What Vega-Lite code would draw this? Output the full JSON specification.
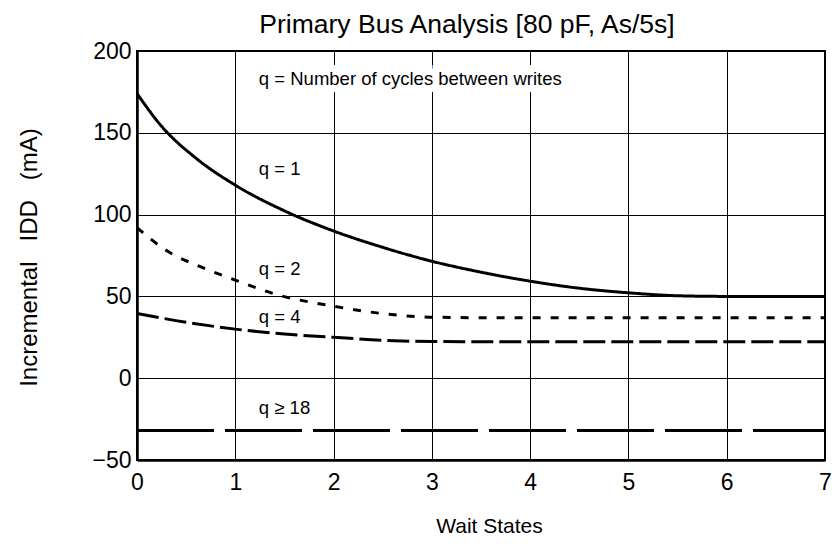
{
  "$schema": "https://vega.github.io/schema/vega-lite/v6.json",
  "width": 688,
  "height": 409,
  "autosize": {"type": "none"},
  "padding": {"left": 137, "top": 51, "right": 7, "bottom": 88},
  "background": "white",
  "config": {
    "font": "Liberation Sans",
    "view": {"stroke": "black", "strokeWidth": 2},
    "axis": {
      "domainColor": "black", "domainWidth": 2.5,
      "gridColor": "black", "gridOpacity": 1, "gridWidth": 1,
      "ticks": false,
      "labelFont": "Liberation Sans", "labelFontSize": 23, "labelColor": "black",
      "titleFont": "Liberation Sans", "titleFontSize": 21, "titleFontWeight": "normal", "titleColor": "black"
    }
  },
  "title": {
    "text": "Primary Bus Analysis [80 pF, As/5s]",
    "fontSize": 26.5, "fontWeight": "normal", "font": "Liberation Sans",
    "anchor": "middle", "baseline": "alphabetic", "offset": 18, "dx": -14, "dy": 37, "color": "black"
  },
  "datasets": {
    "curves": [
      {"ws": 0, "ma": 174, "q": "q = 1"},
      {"ws": 0.25, "ma": 154, "q": "q = 1"},
      {"ws": 0.6, "ma": 134.5, "q": "q = 1"},
      {"ws": 1, "ma": 118, "q": "q = 1"},
      {"ws": 1.5, "ma": 102.3, "q": "q = 1"},
      {"ws": 2, "ma": 90, "q": "q = 1"},
      {"ws": 2.5, "ma": 80, "q": "q = 1"},
      {"ws": 3, "ma": 71.5, "q": "q = 1"},
      {"ws": 3.5, "ma": 64.8, "q": "q = 1"},
      {"ws": 4, "ma": 59.3, "q": "q = 1"},
      {"ws": 4.5, "ma": 55, "q": "q = 1"},
      {"ws": 5, "ma": 52.2, "q": "q = 1"},
      {"ws": 5.5, "ma": 50.4, "q": "q = 1"},
      {"ws": 6, "ma": 50, "q": "q = 1"},
      {"ws": 7, "ma": 50, "q": "q = 1"},
      {"ws": 0, "ma": 92, "q": "q = 2"},
      {"ws": 0.3, "ma": 78, "q": "q = 2"},
      {"ws": 0.65, "ma": 68, "q": "q = 2"},
      {"ws": 1, "ma": 60, "q": "q = 2"},
      {"ws": 1.4, "ma": 51.5, "q": "q = 2"},
      {"ws": 2, "ma": 44, "q": "q = 2"},
      {"ws": 2.5, "ma": 39.5, "q": "q = 2"},
      {"ws": 3, "ma": 37.3, "q": "q = 2"},
      {"ws": 3.5, "ma": 37, "q": "q = 2"},
      {"ws": 7, "ma": 37, "q": "q = 2"},
      {"ws": 0, "ma": 39.5, "q": "q = 4"},
      {"ws": 0.5, "ma": 34.2, "q": "q = 4"},
      {"ws": 1, "ma": 30, "q": "q = 4"},
      {"ws": 1.5, "ma": 27, "q": "q = 4"},
      {"ws": 2, "ma": 25, "q": "q = 4"},
      {"ws": 2.5, "ma": 23.2, "q": "q = 4"},
      {"ws": 3, "ma": 22.4, "q": "q = 4"},
      {"ws": 3.5, "ma": 22.3, "q": "q = 4"},
      {"ws": 7, "ma": 22.3, "q": "q = 4"},
      {"ws": 0, "ma": -32, "q": "q ≥ 18"},
      {"ws": 7, "ma": -32, "q": "q ≥ 18"}
    ],
    "labels": [
      {"ws": 1.24, "ma": 183, "text": "q = Number of cycles between writes", "halo": 1},
      {"ws": 1.24, "ma": 128, "text": "q = 1", "halo": 0},
      {"ws": 1.24, "ma": 67, "text": "q = 2", "halo": 0},
      {"ws": 1.24, "ma": 37.5, "text": "q = 4", "halo": 0},
      {"ws": 1.24, "ma": -18, "text": "q ≥ 18", "halo": 0}
    ]
  },
  "layer": [
    {
      "data": {"name": "curves"},
      "mark": {"type": "line", "interpolate": "monotone", "strokeWidth": 3, "color": "black", "strokeCap": "butt"},
      "encoding": {
        "x": {
          "field": "ws", "type": "quantitative",
          "scale": {"domain": [0, 7], "nice": false, "zero": false},
          "axis": {
            "values": [0, 1, 2, 3, 4, 5, 6, 7], "format": "d", "title": "Wait States",
            "labelPadding": 11, "titleX": 352, "titleY": 66, "titleBaseline": "middle",
            "labelFlush": false
          }
        },
        "y": {
          "field": "ma", "type": "quantitative",
          "scale": {"domain": [-50, 200], "nice": false, "zero": false},
          "axis": {
            "values": [-50, 0, 50, 100, 150, 200], "format": "d", "title": "Incremental\u00a0\u00a0\u00a0IDD\u00a0\u00a0\u00a0(mA)",
            "titleFontSize": 24,
            "labelPadding": 6, "titleX": -108, "titleY": 206, "titleAngle": -90,
            "titleBaseline": "middle", "titleAlign": "center", "labelFlush": false
          }
        },
        "strokeDash": {
          "field": "q", "type": "nominal",
          "scale": {"domain": ["q = 1", "q = 2", "q = 4", "q ≥ 18"], "range": [[1, 0], [8, 10], [22, 6], [77, 11]]},
          "legend": null
        },
        "detail": {"field": "q"}
      }
    },
    {
      "data": {"name": "labels"},
      "transform": [{"filter": "datum.halo == 1"}],
      "mark": {"type": "text", "align": "left", "baseline": "middle", "fontSize": 18.5, "stroke": "white", "strokeWidth": 14, "fill": "white"},
      "encoding": {
        "x": {"field": "ws", "type": "quantitative"},
        "y": {"field": "ma", "type": "quantitative"},
        "text": {"field": "text"}
      }
    },
    {
      "data": {"name": "labels"},
      "mark": {"type": "text", "align": "left", "baseline": "middle", "fontSize": 18.5, "color": "black"},
      "encoding": {
        "x": {"field": "ws", "type": "quantitative"},
        "y": {"field": "ma", "type": "quantitative"},
        "text": {"field": "text"}
      }
    }
  ]
}
